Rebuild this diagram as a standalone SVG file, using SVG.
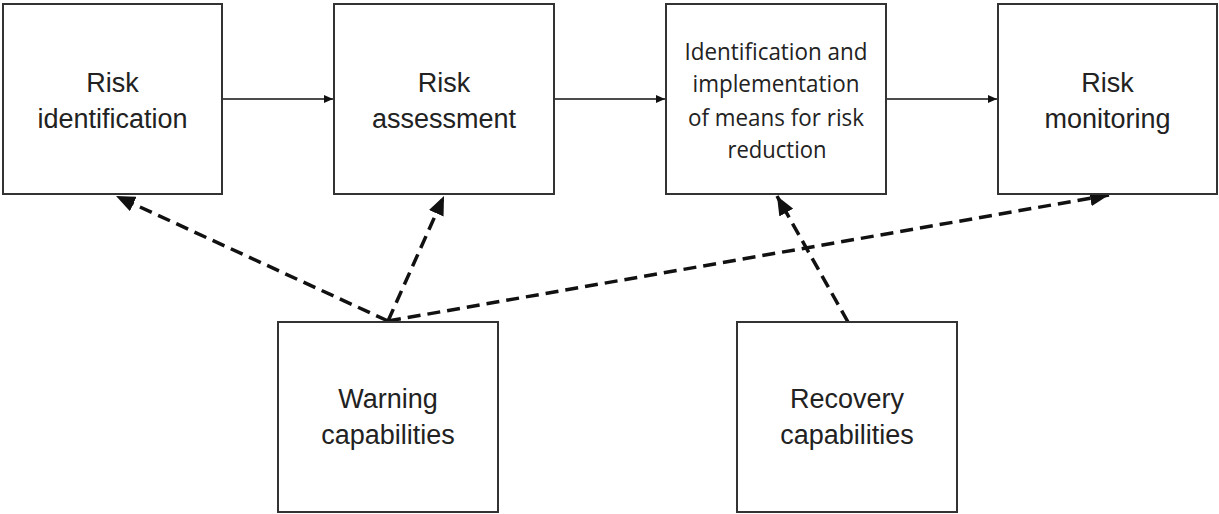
<svg xmlns="http://www.w3.org/2000/svg" width="1219" height="514" viewBox="0 0 1219 514">
<style>
.box{fill:#fff;stroke:#333;stroke-width:2}
.t{font-family:"Liberation Sans",Arial,sans-serif;font-size:27px;fill:#222;text-anchor:middle}
.c{font-family:"Open Sans","Noto Sans",sans-serif;font-size:23px;fill:#222;text-anchor:middle}
.solid{stroke:#111;stroke-width:1.5;fill:none}
.dash{stroke:#111;stroke-width:3.5;fill:none;stroke-dasharray:13 7}
</style>
<defs>
<marker id="sm" markerUnits="userSpaceOnUse" markerWidth="10" markerHeight="8" refX="9" refY="4" orient="auto">
<path d="M0,0 L9,4 L0,8 Z" fill="#111"/>
</marker>
<marker id="big" markerUnits="userSpaceOnUse" markerWidth="20" markerHeight="16" refX="19" refY="8" orient="auto">
<path d="M0,0 L19,8 L0,16 Z" fill="#111"/>
</marker>
</defs>
<g id="connectors">
<line class="solid" x1="222" y1="99" x2="333" y2="99" marker-end="url(#sm)"/>
<line class="solid" x1="554" y1="99" x2="665" y2="99" marker-end="url(#sm)"/>
<line class="solid" x1="886" y1="99" x2="997" y2="99" marker-end="url(#sm)"/>
<line class="dash" x1="388" y1="321" x2="116" y2="196" marker-end="url(#big)"/>
<line class="dash" x1="388" y1="321" x2="444" y2="196" marker-end="url(#big)"/>
<line class="dash" x1="388" y1="321" x2="1109" y2="195" marker-end="url(#big)"/>
<line class="dash" x1="848" y1="322" x2="777" y2="196" marker-end="url(#big)"/>
</g>
<g id="risk-identification">
<rect class="box" x="3" y="4" width="219" height="190"/>
<text class="t" x="112.5" y="92">Risk</text>
<text class="t" x="112.5" y="128">identification</text>
</g>
<g id="risk-assessment">
<rect class="box" x="334" y="4" width="220" height="190"/>
<text class="t" x="444" y="92">Risk</text>
<text class="t" x="444" y="128">assessment</text>
</g>
<g id="risk-reduction">
<rect class="box" x="666" y="4" width="220" height="190"/>
<text class="c" x="776" y="60" textLength="183" lengthAdjust="spacingAndGlyphs">Identification and</text>
<text class="c" x="776" y="92" textLength="167" lengthAdjust="spacingAndGlyphs">implementation</text>
<text class="c" x="776" y="126" textLength="176" lengthAdjust="spacingAndGlyphs">of means for risk</text>
<text class="c" x="777" y="158" textLength="99" lengthAdjust="spacingAndGlyphs">reduction</text>
</g>
<g id="risk-monitoring">
<rect class="box" x="998" y="4" width="219" height="190"/>
<text class="t" x="1107.5" y="92">Risk</text>
<text class="t" x="1107.5" y="128">monitoring</text>
</g>
<g id="warning-capabilities">
<rect class="box" x="278" y="322" width="220" height="190"/>
<text class="t" x="388" y="408">Warning</text>
<text class="t" x="388" y="444">capabilities</text>
</g>
<g id="recovery-capabilities">
<rect class="box" x="737" y="322" width="220" height="190"/>
<text class="t" x="847" y="408">Recovery</text>
<text class="t" x="847" y="444">capabilities</text>
</g>
</svg>
